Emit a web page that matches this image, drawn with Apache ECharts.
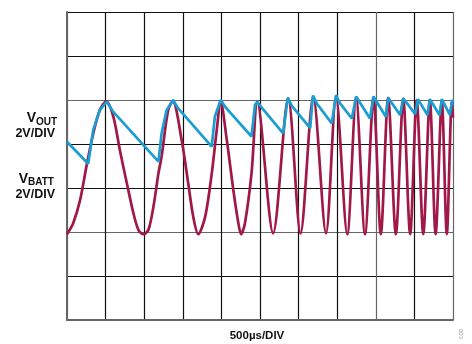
<!DOCTYPE html>
<html>
<head>
<meta charset="utf-8">
<script src="https://cdn.jsdelivr.net/npm/echarts@6/dist/echarts.min.js"></script>
<style>
    html, body { margin: 0; padding: 0; background: #fff; }
    #chart { width: 472px; height: 344px; }
</style>
</head>
<body>
<div id="chart"></div>
<script>
// scope trace, everything in divisions (x: 500us/div, y: 2V/div)
const vbattTime = [
    0, 0.16, 0.34, 0.51, 0.68, 0.85, 1.02, 1.2, 1.37, 1.55, 1.72, 1.85, 1.98, 2.11, 2.24, 2.37,
    2.45, 2.62, 2.74, 2.97, 3.14, 3.27, 3.40, 3.58, 3.75, 3.88, 3.98, 4.14, 4.31, 4.44, 4.51,
    4.61, 4.78, 4.93, 5.34, 5.73, 6.05, 6.38, 6.71, 6.97, 7.26, 7.49, 7.72, 7.94, 8.13, 8.32,
    8.52, 8.71, 8.89, 9.06, 9.23, 9.4, 9.55, 9.71, 9.84, 9.97, 10
];
const vbattVolts = [
    1.95, 2.2, 2.73, 3.52, 4.24, 4.77, 4.97, 4.62, 3.86, 3.11, 2.43, 2.05, 1.95, 2.05, 2.58, 3.34,
    3.71, 4.77, 4.97, 4.09, 3.11, 2.35, 1.95, 2.35, 3.33, 4.32, 4.97, 4.09, 2.95, 2.2, 1.95,
    2.2, 3.33, 4.96, 1.97, 5.04, 1.97, 5.08, 1.97, 5.08, 1.95, 5.05, 1.95, 5.06, 1.95, 5.05,
    1.95, 5.03, 1.95, 5.0, 1.95, 5.0, 1.95, 4.98, 1.95, 4.96, 4.6
];
const voutTime = [
    0, 0.55, 0.68, 0.85, 1.03, 1.2, 2.37, 2.45, 2.58, 2.75, 2.87, 3.75, 3.83, 3.98, 4.12, 4.78,
    4.87, 4.93, 5.05, 5.6, 5.72, 5.83, 6.3, 6.37, 6.48, 6.86, 6.97, 7.07, 7.38, 7.49, 7.85,
    7.94, 8.26, 8.32, 8.63, 8.71, 9.02, 9.09, 9.34, 9.4, 9.65, 9.71, 9.92, 9.98, 10
];
const voutVolts = [
    4.05, 3.55, 4.32, 4.77, 4.96, 4.73, 3.6, 4.24, 4.77, 5.0, 4.82, 3.94, 4.62, 5.0, 4.82, 4.17,
    4.89, 4.96, 4.82, 4.24, 5.05, 4.86, 4.36, 5.1, 4.91, 4.47, 5.11, 4.93, 4.58, 5.08, 4.58,
    5.08, 4.62, 5.05, 4.66, 5.04, 4.68, 5.02, 4.66, 5.02, 4.66, 5.02, 4.66, 5.0, 4.95
];
const xTicks = [0, 1, 2, 3, 4, 5, 6, 7, 8, 9, 10];
const yTicks = [0, 1, 2, 3, 4, 5, 6, 7];

const zip = (xs, ys) => xs.map((x, i) => [x, ys[i]]);

const myEcharts = echarts.init(document.getElementById('chart'));
const labelFont = 'bold 12.5px "Liberation Sans", Arial, sans-serif';

const option = {
    animation: false,
    grid: {
        left: 67,
        right: 19,
        top: 12,
        bottom: 24,
        show: false
    },
    xAxis: {
        type: 'value',
        min: xTicks[0],
        max: xTicks[xTicks.length - 1],
        interval: 1,
        axisLabel: { show: false },
        axisTick: { show: false },
        axisLine: { show: true, lineStyle: { color: '#666', width: 2 } },
        splitLine: {
            show: true,
            lineStyle: {
                // 网格线, a few come out grey on the scan
                color: ['#666', '#111', '#111', '#111', '#111', '#111', '#111', '#111', '#666', '#111', '#666'],
                width: 1.2
            }
        }
    },
    yAxis: {
        type: 'value',
        min: yTicks[0],
        max: yTicks[yTicks.length - 1],
        interval: 1,
        axisLabel: { show: false },
        axisTick: { show: false },
        axisLine: { show: true, lineStyle: { color: '#666', width: 2 } },
        splitLine: {
            show: true,
            lineStyle: {
                color: ['#666', '#111', '#666', '#111', '#111', '#666', '#111', '#111'],
                width: 1.2
            }
        }
    },
    series: [
        {
            name: 'VBATT',
            type: 'line',
            data: zip(vbattTime, vbattVolts),
            smooth: 0.3,
            showSymbol: false,
            lineStyle: { color: '#A01848', width: 2.7 }
        },
        {
            name: 'VOUT',
            type: 'line',
            data: zip(voutTime, voutVolts),
            showSymbol: false,
            lineStyle: { color: '#1A9DD0', width: 2.7 }
        }
    ],
    graphic: [
        { type: 'text', x: 36, y: 118.5, style: { text: 'V', font: 'bold 14px "Liberation Sans", Arial, sans-serif', fill: '#111', textAlign: 'right', textVerticalAlign: 'middle' } },
        { type: 'text', x: 36, y: 121.8, style: { text: 'OUT', font: 'bold 10px "Liberation Sans", Arial, sans-serif', fill: '#111', textAlign: 'left', textVerticalAlign: 'middle' } },
        { type: 'text', x: 55, y: 133.5, style: { text: '2V/DIV', font: labelFont, fill: '#111', textAlign: 'right', textVerticalAlign: 'middle' } },
        { type: 'text', x: 28, y: 179.5, style: { text: 'V', font: 'bold 14px "Liberation Sans", Arial, sans-serif', fill: '#111', textAlign: 'right', textVerticalAlign: 'middle' } },
        { type: 'text', x: 28, y: 182.5, style: { text: 'BATT', font: 'bold 10px "Liberation Sans", Arial, sans-serif', fill: '#111', textAlign: 'left', textVerticalAlign: 'middle' } },
        { type: 'text', x: 55, y: 194.5, style: { text: '2V/DIV', font: labelFont, fill: '#111', textAlign: 'right', textVerticalAlign: 'middle' } },
        { type: 'text', x: 257, y: 336, style: { text: '500µs/DIV', font: 'bold 11.5px "Liberation Sans", Arial, sans-serif', fill: '#111', textAlign: 'center', textVerticalAlign: 'middle' } },
        { type: 'text', x: 461, y: 334, rotation: -Math.PI / 2, style: { text: '003', font: '6px "Liberation Sans", Arial, sans-serif', fill: '#999', textAlign: 'center', textVerticalAlign: 'middle' } }
    ]
};
myEcharts.setOption(option);
</script>
</body>
</html>
